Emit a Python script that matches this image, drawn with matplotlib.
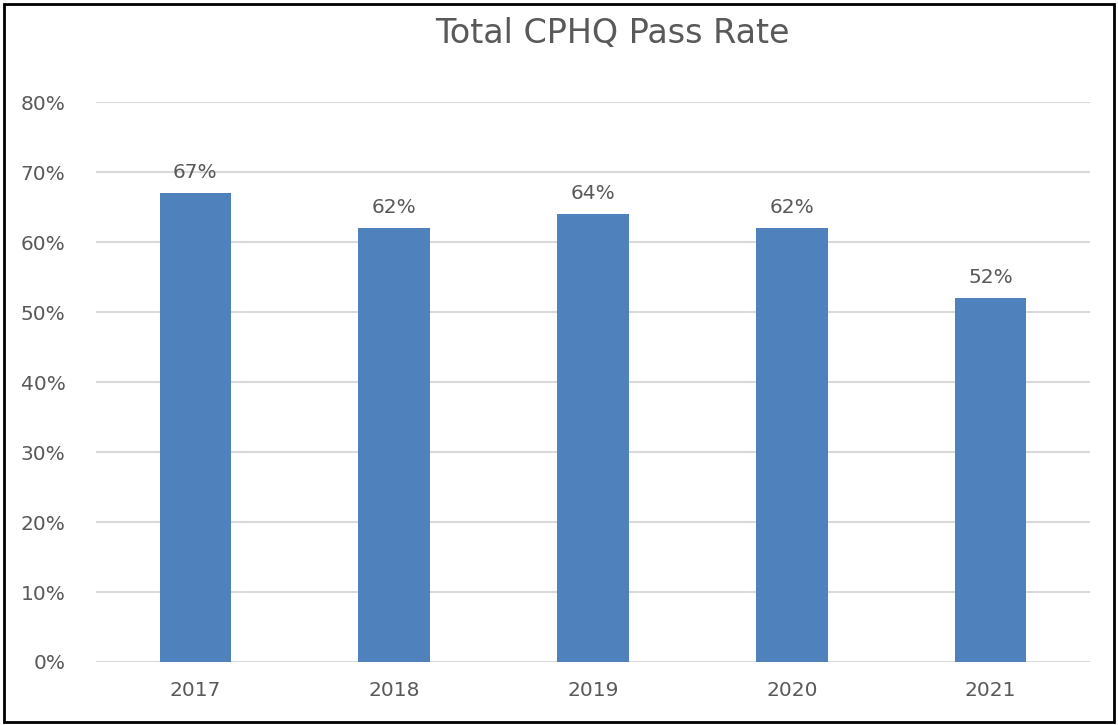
import matplotlib.pyplot as plt
from matplotlib.patches import Rectangle

years = ['2017', '2018', '2019', '2020', '2021']
pass_rate = [0.67, 0.62, 0.64, 0.62, 0.52]
y_ticks = [0, 0.1, 0.2, 0.3, 0.4, 0.5, 0.6, 0.7, 0.8]

plt.rcParams['font.family'] = ['DejaVu Sans']
txt = '#595959'

fig = plt.figure(figsize=[11.18, 7.25], dpi=100)
ax = fig.add_axes([0.0859, 0.0869, 0.889, 0.772])

x = range(len(years))
bars = ax.bar(x, pass_rate, width=0.36, color='#4F81BD', zorder=3)
for b, v in zip(bars, pass_rate):
    ax.annotate('{:.0%}'.format(v), (b.get_x() + b.get_width() / 2, v),
                xytext=(0, 8), textcoords='offset points',
                ha='center', va='bottom', fontsize=14.5, color=txt)

ax.set_xlim(-0.5, 4.5)
ax.set_ylim(0, 0.8)
ax.set_yticks(y_ticks)
ax.set_yticklabels(['{:.0%}'.format(t) for t in y_ticks])
ax.set_xticks(list(x))
ax.set_xticklabels(years)
ax.tick_params(length=0, labelsize=14.5, labelcolor=txt)
ax.tick_params(axis='y', pad=22)
ax.tick_params(axis='x', pad=14)
ax.grid(axis='y', color='#D9D9D9', linewidth=1.5, zorder=0)
for s in ax.spines.values():
    s.set_visible(False)

fig.text(0.548, 0.954, 'Total CPHQ Pass Rate', ha='center', va='center',
         fontsize=24, color=txt)

# outer border
fig.patches.append(Rectangle((0.004, 0.004), 0.992, 0.991, transform=fig.transFigure,
                             fill=False, edgecolor='black', linewidth=2))

fig.savefig('out.png', dpi=100)
